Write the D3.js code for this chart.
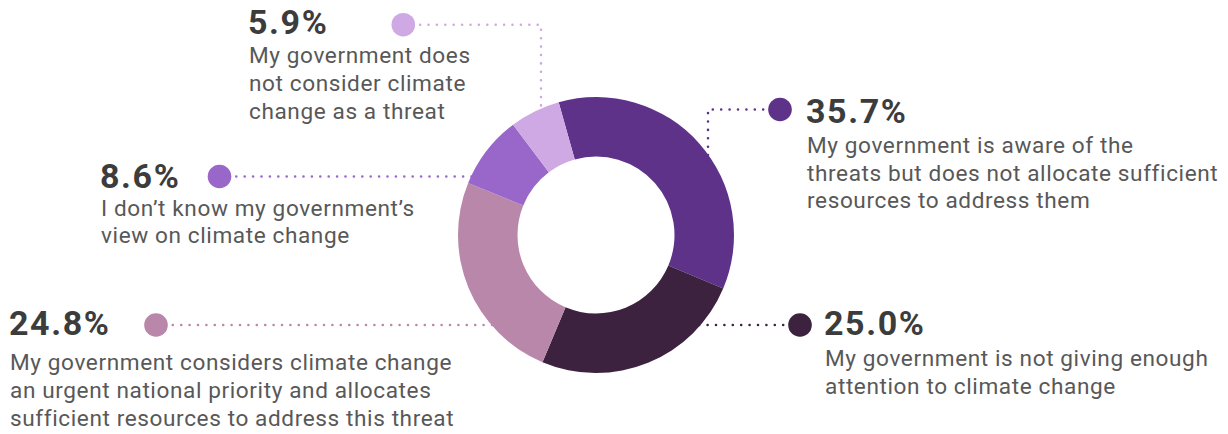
<!DOCTYPE html>
<html>
<head>
<meta charset="utf-8">
<script src="https://cdn.jsdelivr.net/npm/d3@7/dist/d3.min.js"></script>
<style>
  html, body { margin: 0; padding: 0; background: #ffffff; }
  svg { display: block; }
  .val { font-family: Roboto, "Noto Sans", sans-serif; font-weight: 700; font-size: 34px; fill: #3c3c3c; letter-spacing: 1.6px; }
  .desc { font-family: Roboto, "Noto Sans", sans-serif; font-weight: 400; font-size: 22.6px; fill: #585858; letter-spacing: 0.6px; }
</style>
</head>
<body>
<svg id="chart" width="1228" height="434"></svg>
<script>
// ---- data ----
const categories = [
  "My government is aware of the threats but does not allocate sufficient resources to address them",
  "My government is not giving enough attention to climate change",
  "My government considers climate change an urgent national priority and allocates sufficient resources to address this threat",
  "I don\u2019t know my government\u2019s view on climate change",
  "My government does not consider climate change as a threat"
];
const values = [35.7, 25.0, 24.8, 8.6, 5.9];
const valueLabels = ["35.7%", "25.0%", "24.8%", "8.6%", "5.9%"];
const descLines = [
  ["My government is aware of the", "threats but does not allocate sufficient", "resources to address them"],
  ["My government is not giving enough", "attention to climate change"],
  ["My government considers climate change", "an urgent national priority and allocates", "sufficient resources to address this threat"],
  ["I don\u2019t know my government\u2019s", "view on climate change"],
  ["My government does", "not consider climate", "change as a threat"]
];
const colors = ["#5e3289", "#3c223e", "#b987a9", "#9966c9", "#cfa9e4"];

// ---- layout (positions / styles, separate from data) ----
const cx = 596, cy = 235, rOuter = 138, rInner = 78.5;
const startAngle = -0.274;
const layout = [
  { dot: [780, 109.5], elbow: "v", ex: 708, tx: 806, ty: 123, dy: [153, 180.5, 208] },
  { dot: [800, 325], elbow: "h", tx: 824, ty: 334.5, dy: [366, 393.5] },
  { dot: [156, 325], elbow: "h", tx: 9, ty: 335, dy: [370, 398, 425.5] },
  { dot: [219.5, 176.5], elbow: "h", tx: 100, ty: 188, dy: [215.5, 243] },
  { dot: [403.3, 24.7], elbow: "v", ex: 541, tx: 248, ty: 34, dy: [63.3, 91.3, 119.3] }
];

const svg = d3.select("#chart");

const pie = d3.pie().sort(null).value(d => d)
  .startAngle(startAngle).endAngle(startAngle + 2 * Math.PI);
const arcs = pie(values);
const arc = d3.arc().innerRadius(rInner).outerRadius(rOuter);

// leader lines (under donut)
const lines = svg.append("g");
layout.forEach((L, i) => {
  const [dx, dy] = L.dot;
  let pts;
  if (L.elbow === "h") {
    const off = Math.sqrt(rOuter * rOuter - (dy - cy) * (dy - cy));
    const ex = dx > cx ? cx + off - 6 : cx - off + 6;
    pts = [[dx, dy], [ex, dy]];
  } else {
    const off = Math.sqrt(rOuter * rOuter - (L.ex - cx) * (L.ex - cx));
    pts = [[dx, dy], [L.ex, dy], [L.ex, cy - off + 6]];
  }
  lines.append("path")
    .attr("d", d3.line()(pts))
    .attr("fill", "none")
    .attr("stroke", colors[i])
    .attr("stroke-width", 2.6)
    .attr("stroke-linecap", "round")
    .attr("stroke-dasharray", "0 8.4");
});

// donut
svg.append("g").attr("transform", `translate(${cx},${cy})`)
  .selectAll("path").data(arcs).join("path")
  .attr("d", arc)
  .attr("fill", (d, i) => colors[i]);

// dots
svg.append("g").selectAll("circle").data(layout).join("circle")
  .attr("cx", d => d.dot[0]).attr("cy", d => d.dot[1]).attr("r", 11.8)
  .attr("fill", (d, i) => colors[i]);

// labels
const lab = svg.append("g");
layout.forEach((L, i) => {
  lab.append("text").attr("class", "val").attr("x", L.tx).attr("y", L.ty).text(valueLabels[i]);
  descLines[i].forEach((t, j) => {
    lab.append("text").attr("class", "desc").attr("x", L.tx + 1).attr("y", L.dy[j]).text(t);
  });
});
</script>
</body>
</html>
